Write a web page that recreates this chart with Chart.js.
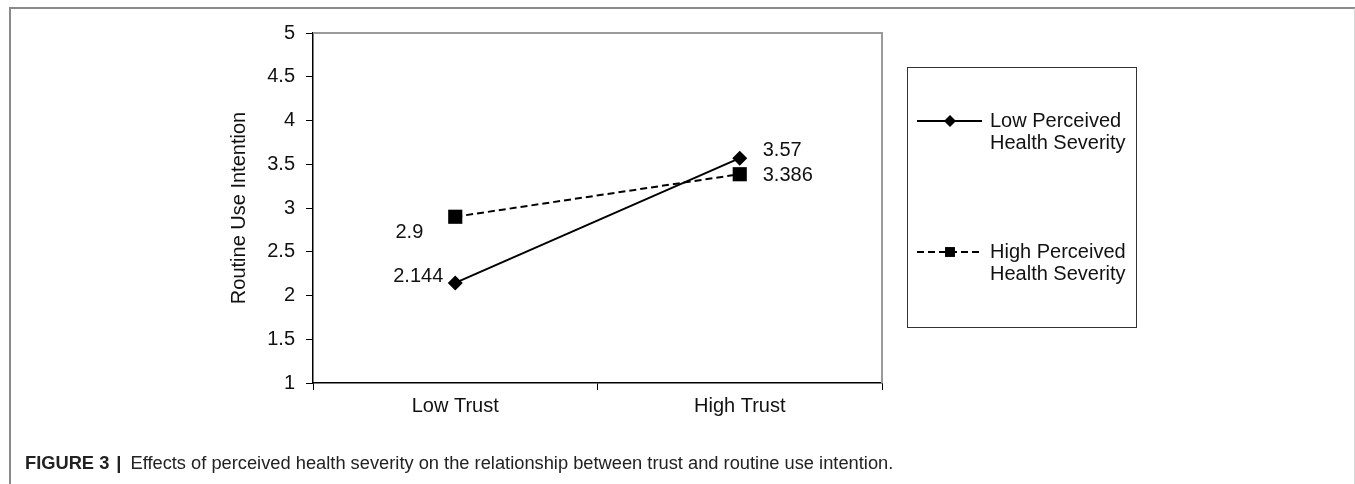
<!DOCTYPE html>
<html>
<head>
<meta charset="utf-8">
<script src="https://cdn.jsdelivr.net/npm/chart.js@4/dist/chart.umd.min.js"></script>
<style>
  html, body { margin: 0; padding: 0; background: #fff; }
  body { width: 1355px; height: 484px; position: relative; overflow: hidden; font-family: "Liberation Sans", Arial, Helvetica, sans-serif; }
  .frame { position: absolute; left: 9px; top: 7px; width: 1343px; height: 490px; border: 2px solid #8a8a8a; border-right-color: #d8d8d8; border-bottom: none; }
  #chart { position: absolute; left: 0; top: 0; }
  .caption { position: absolute; left: 25px; top: 452px; font-size: 18.3px; color: #222; white-space: nowrap; }
  .caption b { font-weight: bold; }
  .caption .bar { font-weight: bold; margin: 0 9px 0 7px; }
</style>
</head>
<body>
<div class="frame"></div>
<canvas id="chart" width="1355" height="484"></canvas>
<div class="caption"><b>FIGURE 3</b><span class="bar">|</span>Effects of perceived health severity on the relationship between trust and routine use intention.</div>

<script>
// Datos
const categories = ['Low Trust', 'High Trust'];
const lowSeverity = [2.144, 3.57];
const highSeverity = [2.9, 3.386];
const seriesNames = [['Low Perceived', 'Health Severity'], ['High Perceived', 'Health Severity']];
const yTicks = { min: 1, max: 5, step: 0.5 };

// Posicion de cada etiqueta respecto a su punto: [dx, dy, align]
const labelOffsets = [
    [[-12, -6, 'right'], [23, -8, 'left']],
    [[-32, 16, 'right'], [23, 1, 'left']]
];

const FONT = '"Liberation Sans", Arial, Helvetica, sans-serif';

// Borde gris superior y derecho del area del grafico
const plotFrame = {
    id: 'plotFrame',
    beforeDatasetsDraw(chart) {
        const { ctx, chartArea: a } = chart;
        ctx.save();
        ctx.strokeStyle = '#9a9a9a';
        ctx.lineWidth = 2;
        ctx.beginPath();
        ctx.moveTo(a.left, a.top);
        ctx.lineTo(a.right, a.top);
        ctx.lineTo(a.right, a.bottom);
        ctx.stroke();
        ctx.restore();
    }
};

// Etiquetas de valores junto a los puntos
const valueLabels = {
    id: 'valueLabels',
    afterDatasetsDraw(chart) {
        const ctx = chart.ctx;
        ctx.save();
        ctx.font = '20px ' + FONT;
        ctx.fillStyle = '#111';
        ctx.textBaseline = 'middle';
        chart.data.datasets.forEach((ds, i) => {
            chart.getDatasetMeta(i).data.forEach((pt, j) => {
                const [dx, dy, align] = labelOffsets[i][j];
                ctx.textAlign = align;
                ctx.fillText(String(ds.data[j]), pt.x + dx, pt.y + dy);
            });
        });
        ctx.restore();
    }
};

// Leyenda con recuadro a la derecha
const boxLegend = {
    id: 'boxLegend',
    afterDraw(chart) {
        const ctx = chart.ctx;
        const box = { x: 907, y: 67, w: 229, h: 260 };
        const rows = [121, 252];
        ctx.save();
        ctx.strokeStyle = '#333';
        ctx.lineWidth = 1;
        ctx.strokeRect(box.x + 0.5, box.y + 0.5, box.w, box.h);
        chart.data.datasets.forEach((ds, i) => {
            const y = rows[i];
            ctx.strokeStyle = ds.borderColor;
            ctx.lineWidth = 2;
            ctx.setLineDash(ds.borderDash || []);
            ctx.beginPath();
            ctx.moveTo(917, y);
            ctx.lineTo(982, y);
            ctx.stroke();
            ctx.setLineDash([]);
            ctx.fillStyle = '#000';
            Chart.helpers.drawPoint(ctx, {
                pointStyle: ds.pointStyle,
                radius: ds.legendRadius,
                borderWidth: 0
            }, 950, y);
            ctx.fillStyle = '#111';
            ctx.font = '20px ' + FONT;
            ctx.textAlign = 'left';
            ctx.textBaseline = 'middle';
            seriesNames[i].forEach((line, k) => ctx.fillText(line, 990, y + k * 22));
        });
        ctx.restore();
    }
};

new Chart(document.getElementById('chart'), {
    type: 'line',
    data: {
        labels: categories,
        datasets: [{
            label: seriesNames[0].join(' '),
            data: lowSeverity,
            borderColor: '#000',
            backgroundColor: '#000',
            borderWidth: 2,
            pointStyle: 'rectRot',
            pointRadius: 7.5,
            legendRadius: 6,
            pointBackgroundColor: '#000',
            pointBorderWidth: 0,
            tension: 0
        }, {
            label: seriesNames[1].join(' '),
            data: highSeverity,
            borderColor: '#000',
            backgroundColor: '#000',
            borderWidth: 2,
            borderDash: [7, 4],
            pointStyle: 'rect',
            pointRadius: 10,
            legendRadius: 7,
            pointBackgroundColor: '#000',
            pointBorderWidth: 0,
            tension: 0
        }]
    },
    options: {
        responsive: false,
        animation: false,
        events: [],
        layout: { padding: { top: 33, right: 473, bottom: 61, left: 0 } },
        plugins: {
            legend: { display: false },
            tooltip: { enabled: false }
        },
        scales: {
            x: {
                type: 'category',
                offset: true,
                grid: { offset: true, drawOnChartArea: false, drawTicks: true, tickLength: 7, tickColor: '#000', tickWidth: 1 },
                border: { color: '#000', width: 1.5 },
                ticks: { color: '#111', font: { size: 20, family: FONT }, padding: 4, maxRotation: 0 },
                afterFit(scale) { scale.height = 40; }
            },
            y: {
                min: yTicks.min,
                max: yTicks.max,
                grid: { drawOnChartArea: false, drawTicks: true, tickLength: 7, tickColor: '#000', tickWidth: 1 },
                border: { color: '#000', width: 1.5 },
                ticks: {
                    stepSize: yTicks.step,
                    color: '#111',
                    font: { size: 20, family: FONT },
                    padding: 11,
                    callback: (v) => String(+v.toFixed(1))
                },
                title: {
                    display: true,
                    text: 'Routine Use Intention',
                    color: '#111',
                    font: { size: 20, family: FONT },
                    padding: { top: 227, bottom: 0 }
                },
                afterFit(scale) { scale.width = 313; }
            }
        }
    },
    plugins: [plotFrame, valueLabels, boxLegend]
});
</script>
</body>
</html>
